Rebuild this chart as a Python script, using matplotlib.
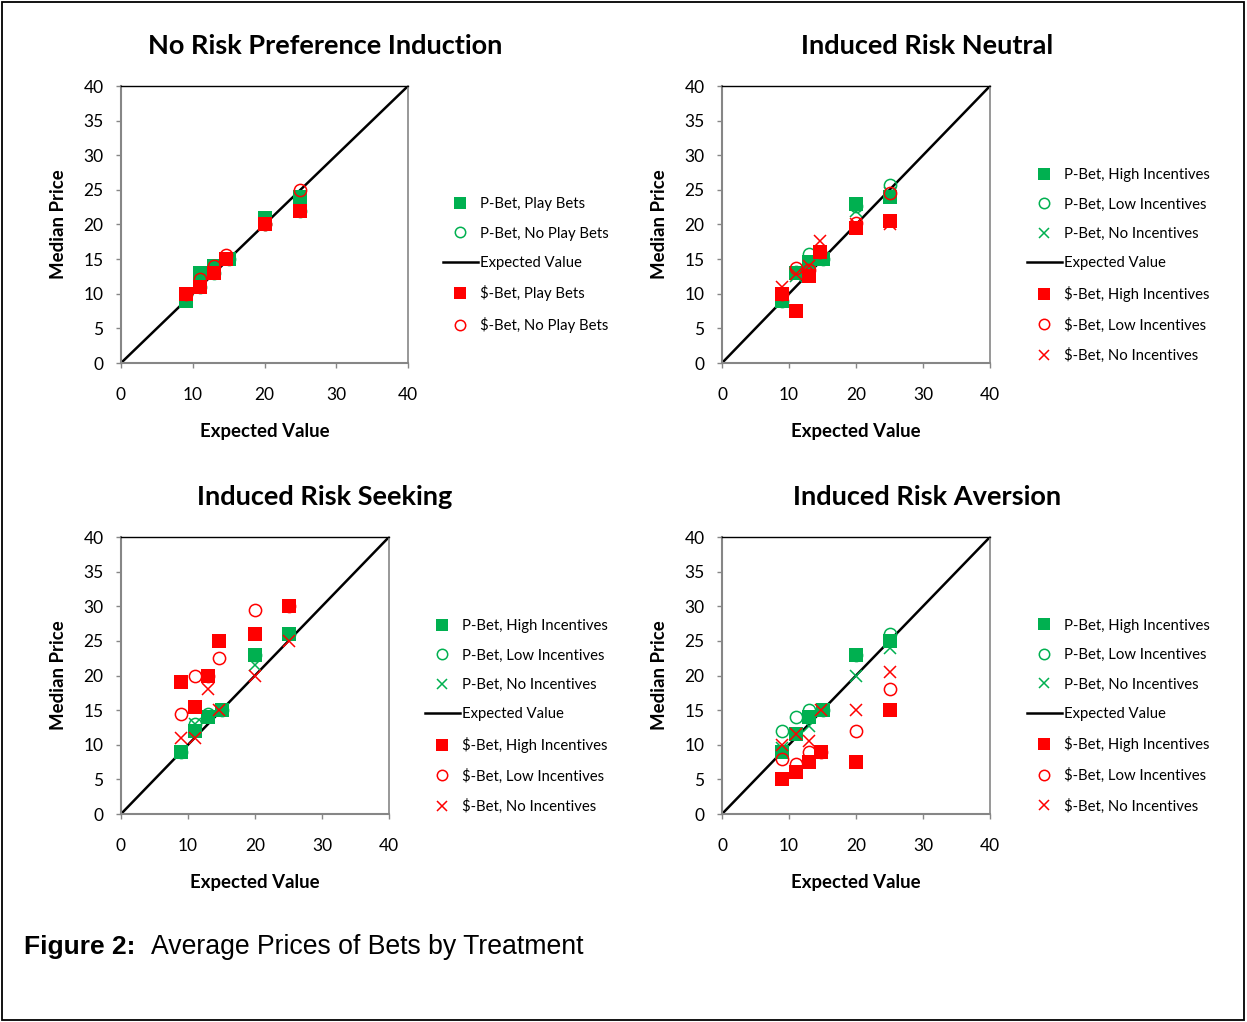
import numpy as np
import matplotlib
matplotlib.use("Agg")
import matplotlib.pyplot as plt
from matplotlib.lines import Line2D
from matplotlib.patches import Rectangle

# ---- data ----
titles = ["No Risk Preference Induction", "Induced Risk Neutral",
          "Induced Risk Seeking", "Induced Risk Aversion"]

# panel 1: no risk preference induction
p_ev_1 = [9, 11, 13, 15, 20, 25]
d_ev_1 = [9, 11, 13, 14.6, 20, 25]
p_play_1 = [9, 13, 14, 15, 21, 24]
p_noplay_1 = [10, 11, 13, 15, 20, 22]
d_play_1 = [10, 11, 13, 15, 20, 22]
d_noplay_1 = [10, 12.2, 14, 15.6, 20, 25]

# panel 2: induced risk neutral
p_ev_2 = [9, 11, 13, 15, 20, 25]
d_ev_2 = [9, 11, 13, 14.7, 20, 25]
p_high_2 = [9, 13, 14.6, 15, 23, 24]
p_low_2 = [9, 13.2, 15.7, 15, 22.6, 25.7]
p_none_2 = [9, 12.5, 14, 15, 22, 24.5]
d_high_2 = [10, 7.5, 12.6, 16, 19.5, 20.5]
d_low_2 = [10, 13.7, 13.5, 16, 20.2, 24.5]
d_none_2 = [11, 12.8, 14, 17.6, 20, 20]

# panel 3: induced risk seeking
p_ev_3 = [9, 11, 13, 15, 20, 25]
d_ev_3 = [9, 11, 13, 14.6, 20, 25]
p_high_3 = [9, 12, 14, 15, 23, 26]
p_low_3 = [9, 13, 14.5, 15, 23, 26]
p_none_3 = [9, 13, 14, 15, 21.5, 26]
d_high_3 = [19, 15.5, 20, 25, 26, 30]
d_low_3 = [14.5, 20, 20, 22.5, 29.5, 30]
d_none_3 = [11, 11, 18, 15, 20, 25]

# panel 4: induced risk aversion
p_ev_4 = [9, 11, 13, 15, 20, 25]
d_ev_4 = [9, 11, 13, 14.8, 20, 25]
p_high_4 = [9, 11.5, 14, 15, 23, 25]
p_low_4 = [12, 14, 15, 15, 23, 26]
p_none_4 = [9.5, 11.5, 12.7, 15, 20, 24]
d_high_4 = [5, 6, 7.5, 9, 7.5, 15]
d_low_4 = [8, 7.2, 9, 9, 12, 18]
d_none_4 = [10, 11.5, 10.5, 15, 15, 20.5]

ev_line = [0, 40]
ticks_x = [0, 10, 20, 30, 40]
ticks_y = [0, 5, 10, 15, 20, 25, 30, 35, 40]

GREEN = "#00B050"
RED = "#FF0000"
GRAY = "#868686"

W, H = 1247, 1022
plt.rcParams['font.family'] = ['Lato', 'DejaVu Sans']

fig = plt.figure(figsize=(W / 100, H / 100), dpi=100)

def px_axes(left, top, right, bottom):
    return fig.add_axes([left / W, 1 - bottom / H, (right - left) / W, (bottom - top) / H])

def style_axes(ax, width_px):
    ax.set_xlim(0, 40)
    ax.set_ylim(0, 40)
    ax.set_xticks(ticks_x)
    ax.set_yticks(ticks_y)
    ax.tick_params(axis='both', direction='out', length=3.6, width=1.0, color=GRAY,
                   labelsize=12.5, labelcolor='black')
    ax.tick_params(axis='x', pad=14)
    ax.tick_params(axis='y', pad=9)
    ax.spines['left'].set_color(GRAY)
    ax.spines['bottom'].set_color(GRAY)
    ax.spines['left'].set_linewidth(1.5)
    ax.spines['bottom'].set_linewidth(1.5)
    ax.spines['top'].set_color('black')
    ax.spines['top'].set_linewidth(1.0)
    ax.spines['right'].set_color(GRAY)
    ax.spines['right'].set_linewidth(1.2)
    ax.set_xlabel("Expected Value", fontsize=13.4, fontweight='bold')
    ax.set_ylabel("Median Price", fontsize=13.4, fontweight='bold')
    ax.xaxis.set_label_coords(0.5, -(423 - 363) / 277)
    ax.yaxis.set_label_coords(-(121 - 67) / width_px, 0.5)

def sq(ax, x, y, c, label):
    return ax.plot(x, y, ls='none', marker='s', ms=9.6, mfc=c, mec=c, mew=0,
                   label=label, zorder=3)[0]

def circ(ax, x, y, c, label):
    return ax.plot(x, y, ls='none', marker='o', ms=8.8, mfc='none', mec=c, mew=1.1,
                   label=label, zorder=3)[0]

def cross(ax, x, y, c, label):
    return ax.plot(x, y, ls='none', marker='x', ms=8.4, mec=c, mew=1.1,
                   label=label, zorder=3)[0]

def evline(ax):
    return ax.plot(ev_line, ev_line, color='black', lw=1.8, label="Expected Value", zorder=2)[0]

def add_legend(ax, handles, x_px, yc_px):
    ax.legend(handles=handles, loc='center left',
              bbox_to_anchor=(x_px / W, 1 - yc_px / H), bbox_transform=fig.transFigure,
              frameon=False, fontsize=10.7, handlelength=2.35, handletextpad=0.15,
              labelspacing=1.04, borderpad=0, borderaxespad=0, markerscale=0.85)

# ---- panel 1 ----
ax1 = px_axes(121, 86, 408, 363)
style_axes(ax1, 287)
l = evline(ax1)
h1 = sq(ax1, p_ev_1, p_play_1, GREEN, "P-Bet, Play Bets")
h2 = circ(ax1, p_ev_1, p_noplay_1, GREEN, "P-Bet, No Play Bets")
h3 = sq(ax1, d_ev_1, d_play_1, RED, "\\$-Bet, Play Bets")
h4 = circ(ax1, d_ev_1, d_noplay_1, RED, "\\$-Bet, No Play Bets")
add_legend(ax1, [h1, h2, l, h3, h4], 443, 265)

# ---- panels 2-4 ----
panel_data = [
    (p_ev_2, d_ev_2, p_high_2, p_low_2, p_none_2, d_high_2, d_low_2, d_none_2),
    (p_ev_3, d_ev_3, p_high_3, p_low_3, p_none_3, d_high_3, d_low_3, d_none_3),
    (p_ev_4, d_ev_4, p_high_4, p_low_4, p_none_4, d_high_4, d_low_4, d_none_4),
]
boxes = [(722, 86, 990, 363), (121, 537, 389, 814), (722, 537, 990, 814)]
legend_pos = [(1027, 265.5), (425, 716.5), (1027, 716)]

axes = [ax1]
for (pe, de, ph, pl, pn, dh, dl, dn), box, lp in zip(panel_data, boxes, legend_pos):
    ax = px_axes(*box)
    style_axes(ax, box[2] - box[0])
    l = evline(ax)
    a = sq(ax, pe, ph, GREEN, "P-Bet, High Incentives")
    b = circ(ax, pe, pl, GREEN, "P-Bet, Low Incentives")
    c = cross(ax, pe, pn, GREEN, "P-Bet, No Incentives")
    d = sq(ax, de, dh, RED, "\\$-Bet, High Incentives")
    e = circ(ax, de, dl, RED, "\\$-Bet, Low Incentives")
    f = cross(ax, de, dn, RED, "\\$-Bet, No Incentives")
    add_legend(ax, [a, b, c, l, d, e, f], lp[0], lp[1])
    axes.append(ax)

# titles, centred over plot + legend
title_pos = [(325, 46), (927, 46), (325, 497), (927, 497)]
for t, (tx, ty) in zip(titles, title_pos):
    fig.text(tx / W, 1 - ty / H, t, ha='center', va='center', fontsize=19.5, fontweight='bold')

# caption
fig.text(24 / W, 1 - 947 / H, "Figure 2:", ha='left', va='center', fontsize=19,
         fontweight='bold', family='Liberation Sans')
fig.text(151 / W, 1 - 947 / H, "Average Prices of Bets by Treatment", ha='left', va='center',
         fontsize=19.2, family='Liberation Sans')

# outer frame
fig.patches.append(Rectangle((2 / W, 2 / H), 1242 / W, 1018 / H, transform=fig.transFigure,
                             fill=False, edgecolor='black', lw=1.3))

fig.savefig("out.png", dpi=100)
